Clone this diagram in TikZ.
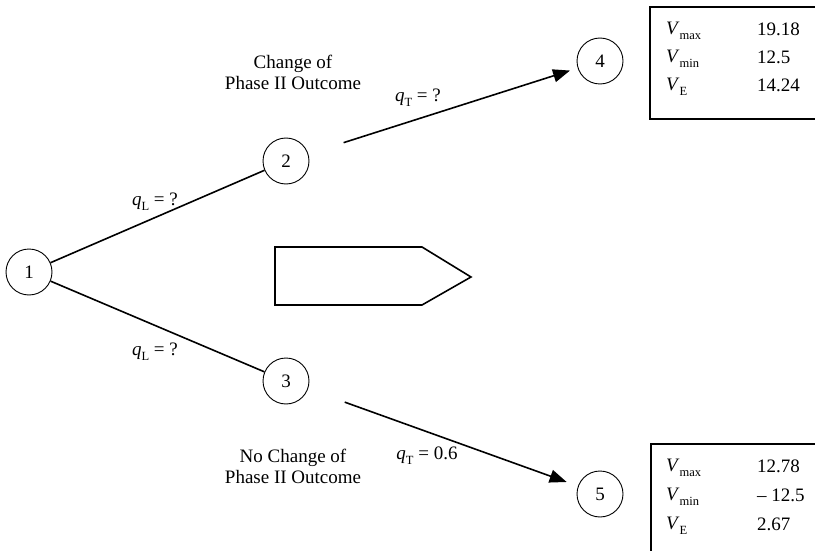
\documentclass[tikz,border=0pt]{standalone}
\usepackage{fontspec}
\setmainfont{Liberation Serif}
\usetikzlibrary{arrows.meta}
\newcommand{\sbx}[1]{\raisebox{-0.55ex}{\fontsize{12.5}{12.5}\selectfont #1}}
\begin{document}
\begin{tikzpicture}[x=1pt,y=-1pt,
  font=\fontsize{19}{21}\selectfont,
  state/.style={circle,draw,line width=0.9pt,minimum size=46pt,inner sep=0pt},
  branch/.style={line width=1.6pt},
  arr/.style={line width=1.6pt,-{Triangle[length=17pt,width=13pt]}},
  lbl/.style={inner sep=0pt},
  vbox/.style={line width=1.6pt},
  vtxt/.style={anchor=west,inner sep=0pt}]
\clip (0,0) rectangle (815,551);
\fill[white] (0,0) rectangle (815,551);
% state nodes
\node[state] (n1) at (29,272) {1};
\node[state] (n2) at (286,161) {2};
\node[state] (n3) at (286,381) {3};
\node[state] (n4) at (600,61) {4};
\node[state] (n5) at (600,494) {5};
% branches
\draw[branch] (n1) -- (n2);
\draw[branch] (n1) -- (n3);
\draw[arr,shorten <=37pt,shorten >=8pt] (n2) -- (n4);
\draw[arr,shorten <=39pt,shorten >=12pt] (n3) -- (n5);
% labels
\node[lbl] (lq1) at (155,202) {\textit{q}\sbx{L} = ?};
\node[lbl] (lq2) at (155,352) {\textit{q}\sbx{L} = ?};
\node[lbl] (lq3) at (418,98) {\textit{q}\sbx{T} = ?};
\node[lbl] (lq4) at (427,456) {\textit{q}\sbx{T} = 0.6};
\node[lbl,align=center] (tc1) at (293,72) {Change of\\Phase II Outcome};
\node[lbl,align=center] (tc2) at (293,466) {No Change of\\Phase II Outcome};
% pentagon arrow shape
\draw[line width=1.6pt] (275,247) -- (422,247) -- (471,277) -- (422,305) -- (275,305) -- cycle;
% value boxes
\draw[vbox] (650,7) rectangle (830,119);
\node[vtxt] (a1) at (666,31) {\textit{V}\sbx{max}};
\node[vtxt] (a2) at (666,59) {\textit{V}\sbx{min}};
\node[vtxt] (a3) at (666,87) {\textit{V}\sbx{E}};
\node[vtxt] (b1) at (757,29) {19.18};
\node[vtxt] (b2) at (757,57) {12.5};
\node[vtxt] (b3) at (757,85) {14.24};
\draw[vbox] (651,444) rectangle (830,570);
\node[vtxt] (c1) at (666,468) {\textit{V}\sbx{max}};
\node[vtxt] (c2) at (666,497) {\textit{V}\sbx{min}};
\node[vtxt] (c3) at (666,526) {\textit{V}\sbx{E}};
\node[vtxt] (d1) at (757,466) {12.78};
\node[vtxt] (d2) at (757,495) {– 12.5};
\node[vtxt] (d3) at (757,524) {2.67};
\end{tikzpicture}
\end{document}
